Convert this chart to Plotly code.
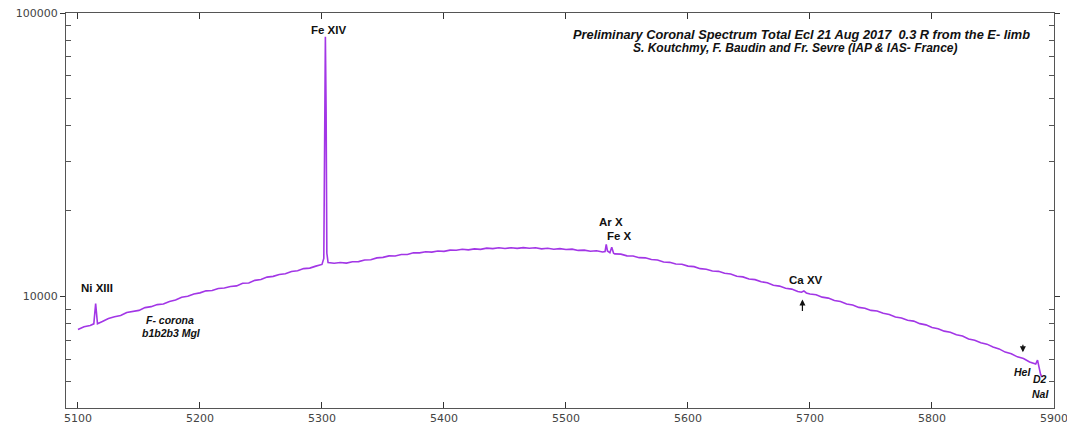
import numpy as np
import plotly.graph_objects as go

# ---------------- data ----------------
wavelength = [
    5100, 5105, 5110, 5113, 5114.5, 5116, 5120, 5125, 5130, 5135, 5140, 5145,
    5150, 5155, 5160, 5165, 5170, 5175, 5180, 5185, 5190, 5195,
    5200, 5205, 5210, 5215, 5220, 5225, 5230, 5235, 5240, 5245,
    5250, 5255, 5260, 5265, 5270, 5275, 5280, 5285, 5290, 5295,
    5300, 5301.5, 5302.2, 5302.8, 5303.4, 5304, 5305, 5310, 5315, 5320, 5325, 5330, 5335, 5340, 5345,
    5350, 5355, 5360, 5365, 5370, 5375, 5380, 5385, 5390, 5395,
    5400, 5405, 5410, 5415, 5420, 5425, 5430, 5435, 5440, 5445,
    5450, 5455, 5460, 5465, 5470, 5475, 5480, 5485, 5490, 5495,
    5500, 5505, 5510, 5515, 5520, 5525, 5530, 5532, 5533, 5534, 5536, 5537.5, 5539, 5540, 5545,
    5550, 5555, 5560, 5565, 5570, 5575, 5580, 5585, 5590, 5595,
    5600, 5605, 5610, 5615, 5620, 5625, 5630, 5635, 5640, 5645,
    5650, 5655, 5660, 5665, 5670, 5675, 5680, 5685, 5690, 5693, 5695, 5697,
    5700, 5705, 5710, 5715, 5720, 5725, 5730, 5735, 5740, 5745,
    5750, 5755, 5760, 5765, 5770, 5775, 5780, 5785, 5790, 5795,
    5800, 5805, 5810, 5815, 5820, 5825, 5830, 5835, 5840, 5845,
    5850, 5855, 5860, 5865, 5870, 5875, 5880, 5885, 5886.5, 5887.5, 5889, 5890,
]
intensity = [
    7630, 7800, 7890, 7990, 9425, 8000, 8145, 8345, 8460, 8550, 8765, 8830,
    8915, 9120, 9190, 9345, 9395, 9590, 9695, 9925, 10005, 10190,
    10280, 10450, 10485, 10655, 10700, 10830, 10880, 11110, 11135, 11380,
    11460, 11685, 11755, 11930, 12005, 12230, 12305, 12520, 12570, 12775,
    12950, 13600, 45000, 82400, 45000, 14200, 13150, 13080, 13160, 13095, 13240, 13255, 13430, 13460, 13660,
    13715, 13880, 13875, 14035, 14045, 14235, 14230, 14365, 14315, 14440,
    14400, 14550, 14535, 14650, 14585, 14700, 14640, 14785, 14725, 14830,
    14745, 14835, 14760, 14845, 14765, 14830, 14705, 14765, 14650, 14725,
    14620, 14665, 14515, 14545, 14415, 14470, 14330, 14380, 15250, 14450, 14250, 14900, 14180, 14115, 14085,
    13885, 13870, 13685, 13665, 13480, 13420, 13210, 13175, 12995, 12970,
    12775, 12720, 12515, 12455, 12285, 12245, 12050, 11990, 11770, 11705,
    11505, 11445, 11250, 11155, 10935, 10860, 10665, 10600, 10395, 10330, 10440, 10270,
    10190, 10130, 9930, 9850, 9660, 9585, 9385, 9310, 9135, 9075,
    8915, 8865, 8710, 8625, 8450, 8385, 8225, 8170, 8005, 7925,
    7755, 7685, 7530, 7465, 7315, 7235, 7070, 6995, 6850, 6775,
    6615, 6520, 6350, 6265, 6110, 6025, 5860, 5760, 5950, 5600, 5300, 5180,
]

x_tick_values = [5100, 5200, 5300, 5400, 5500, 5600, 5700, 5800, 5900]
y_tick_values = [10000, 100000]
y_tick_labels = ["10000", "100000"]
y_minor_values = [5000, 6000, 7000, 8000, 9000, 20000, 30000, 40000,
                  50000, 60000, 70000, 80000, 90000]

line_labels = ["Fe XIV", "Ni XIII", "Ar X", "Fe X", "Ca XV"]
line_label_x = [5305, 5115.8, 5536.8, 5543.5, 5697]
line_label_y = [87300, 10730, 18350, 16350, 11450]

italic_labels = ["F- corona", "b1b2b3 MgI", "HeI", "D2", "NaI"]
italic_label_x = [5175.5, 5176.5, 5874.5, 5888.6, 5888.6]
italic_label_y = [8240, 7440, 5400, 5090, 4530]

arrow_x = [5693.8, 5874.5]
arrow_y = [9735, 6345]
arrow_tail = [13, -9]

title_lines = [
    "Preliminary Coronal Spectrum Total Ecl 21 Aug 2017&nbsp;&nbsp;0.3 R from the E- limb",
    "S. Koutchmy, F. Baudin and Fr. Sevre (IAP & IAS- France)",
]
title_x = [0.744, 0.738]
title_y = [0.9456, 0.911]
title_size = [12.8, 12]

# ---------------- figure ----------------
LINE_COLOR = "#a236e6"
AXIS_COLOR = "#555555"

fig = go.Figure()
fig.add_trace(go.Scatter(
    x=wavelength, y=intensity, mode="lines",
    line=dict(color=LINE_COLOR, width=1.6),
    showlegend=False, hoverinfo="x+y",
))

ann = []
for t, x, y in zip(line_labels, line_label_x, line_label_y):
    ann.append(dict(x=x, y=np.log10(y), xref="x", yref="y", text="<b>%s</b>" % t,
                    showarrow=False, font=dict(family="Liberation Sans", size=11.5, color="#111111")))
for t, x, y in zip(italic_labels, italic_label_x, italic_label_y):
    ann.append(dict(x=x, y=np.log10(y), xref="x", yref="y", text="<b><i>%s</i></b>" % t,
                    showarrow=False, font=dict(family="Liberation Sans Narrow, Liberation Sans", size=10.5, color="#111111")))
for x, y, t in zip(arrow_x, arrow_y, arrow_tail):
    ann.append(dict(x=x, y=np.log10(y), xref="x", yref="y", text="", showarrow=True,
                    arrowhead=2, arrowsize=1.0, arrowwidth=1.2, arrowcolor="#111111",
                    ax=0, ay=t))
for t, x, y, s in zip(title_lines, title_x, title_y, title_size):
    ann.append(dict(x=x, y=y, xref="paper", yref="paper",
                    text="<b><i>%s</i></b>" % t, showarrow=False,
                    xanchor="center", yanchor="middle",
                    font=dict(family="Liberation Sans", size=s, color="#111111")))

fig.update_layout(
    width=1075, height=434,
    margin=dict(l=58, r=29, t=5, b=34, autoexpand=False),
    paper_bgcolor="white", plot_bgcolor="white",
    annotations=ann,
    font=dict(family="DejaVu Sans", size=11, color="#444444"),
)
fig.update_xaxes(
    range=[5090.2, 5900], tickvals=x_tick_values, automargin=False,
    ticklabeloverflow="allow",
    ticks="inside", ticklen=6, tickcolor="#333333",
    showline=True, linecolor=AXIS_COLOR, linewidth=1, mirror="ticks",
    showgrid=False, zeroline=False,
    tickfont=dict(family="DejaVu Sans", size=11, color="#444444"),
)
fig.update_yaxes(
    type="log", range=[3.6055, 5.0], automargin=False,
    ticklabeloverflow="allow",
    tickvals=y_tick_values, ticktext=y_tick_labels,
    ticks="outside", ticklen=5, tickcolor="#333333",
    minor=dict(tickvals=y_minor_values, ticks="inside", ticklen=5, tickcolor="#555555"),
    showline=True, linecolor=AXIS_COLOR, linewidth=1, mirror="ticks",
    showgrid=False, zeroline=False,
    tickfont=dict(family="DejaVu Sans", size=11, color="#444444"),
)

fig.write_html("out.html")
